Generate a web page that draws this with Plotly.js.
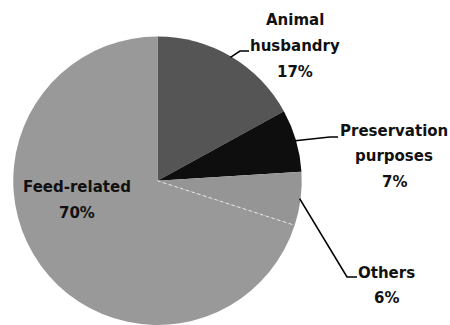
<!DOCTYPE html>
<html>
<head>
<meta charset="utf-8">
<script src="https://cdn.plot.ly/plotly-3.0.1.min.js"></script>
<style>
  html, body { margin: 0; padding: 0; background: #fff; overflow: hidden; }
  #chart { width: 450px; height: 325px; }
</style>
</head>
<body>
<div id="chart"></div>
<script>
// Share of uses, in percent
const categories = ['Animal husbandry', 'Preservation purposes', 'Others', 'Feed-related'];
const shares = [17, 7, 6, 70];
// Label lines shown next to each slice (the percentage is appended below them)
const labelLines = [['Animal', 'husbandry'], ['Preservation', 'purposes'], ['Others'], ['Feed-related']];
const sliceColors = ['#555555', '#0e0e0e', '#959595', '#999999'];

// Page and pie geometry (pixels)
const W = 450, H = 325;
const cx = 157.5, R = 144.25;
const cy = H - R;
const px = x => x / W;
const py = y => 1 - y / H;

// Where each label block sits: centre x, first line y, line step;
// leader: elbow point and end point (null = no leader line)
const labelPlacement = [
  { x: 295, y: 20, step: 26, elbow: [240, 51], end: [249, 51] },
  { x: 394, y: 131, step: 25.5, elbow: [330, 137], end: [338, 137] },
  { x: 386, y: 273, step: 25, elbow: [347, 277], end: [357, 277] },
  { x: 77, y: 187.5, step: 25.5, elbow: null, end: null }
];

const total = shares.reduce((a, b) => a + b, 0);
const edgePoint = (deg, r) => {
  const t = deg * Math.PI / 180;
  return [cx + r * Math.sin(t), cy - r * Math.cos(t)];
};

const annotations = [];
const shapes = [];
let cum = 0;
shares.forEach((v, i) => {
  const startDeg = cum / total * 360;
  cum += v;
  const endDeg = cum / total * 360;
  const midDeg = (startDeg + endDeg) / 2;
  const place = labelPlacement[i];
  const lines = labelLines[i].concat([v + '%']);
  lines.forEach((txt, k) => {
    annotations.push({
      xref: 'paper', yref: 'paper',
      x: px(place.x), y: py(place.y + k * place.step),
      xanchor: 'center', yanchor: 'middle',
      text: txt, showarrow: false,
      font: { family: 'DejaVu Sans, sans-serif', size: 15, color: '#111', weight: 'bold' }
    });
  });
  if (place.elbow) {
    const s = edgePoint(midDeg, R - 1);
    shapes.push({
      type: 'path', xref: 'paper', yref: 'paper',
      path: `M ${px(s[0])} ${py(s[1])} L ${px(place.elbow[0])} ${py(place.elbow[1])} L ${px(place.end[0])} ${py(place.end[1])}`,
      line: { color: '#000', width: 1.6 }
    });
  }
});

// faint dotted seam between the last small slice and the large one
const seamDeg = (total - shares[shares.length - 1]) / total * 360;
const seam = edgePoint(seamDeg, R - 2);
shapes.push({
  type: 'line', xref: 'paper', yref: 'paper',
  x0: px(cx), y0: py(cy), x1: px(seam[0]), y1: py(seam[1]),
  line: { color: 'rgba(255,255,255,0.75)', width: 1, dash: 'dot' }
});

const trace = {
  type: 'pie',
  labels: categories,
  values: shares,
  sort: false,
  direction: 'clockwise',
  rotation: 0,
  textinfo: 'none',
  hoverinfo: 'none',
  marker: { colors: sliceColors, line: { width: 0 } },
  domain: { x: [px(cx - R), px(cx + R)], y: [0, 2 * R / H] },
  showlegend: false
};

const layout = {
  width: W, height: H,
  margin: { l: 0, r: 0, t: 0, b: 0 },
  paper_bgcolor: '#fff',
  plot_bgcolor: '#fff',
  showlegend: false,
  annotations: annotations,
  shapes: shapes
};

Plotly.newPlot('chart', [trace], layout, { staticPlot: true, displayModeBar: false });
</script>
</body>
</html>
